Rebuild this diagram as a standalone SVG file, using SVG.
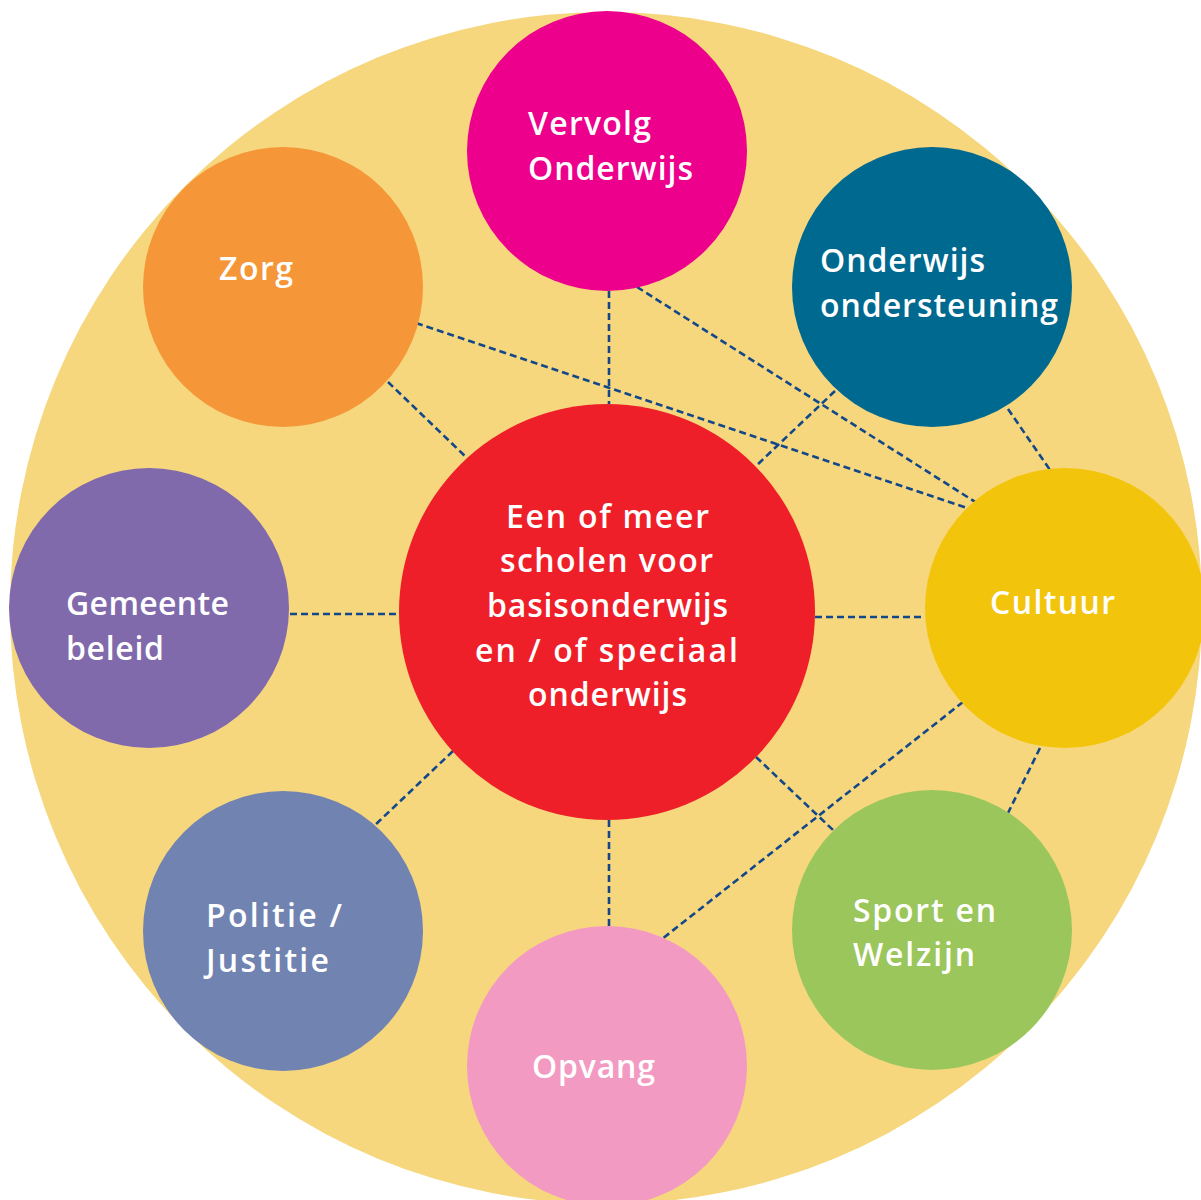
<svg xmlns="http://www.w3.org/2000/svg" width="1201" height="1200" viewBox="0 0 1201 1200">
<style>
.bg{fill:#F6D77E}
.lbl{font-family:"Open Sans","Noto Sans","Liberation Sans",sans-serif;font-size:32px;font-weight:600;fill:#FFFFFF}
#connectors line{stroke:#12488A;stroke-width:2.6;stroke-dasharray:7 4;fill:none}
</style>
<rect width="1201" height="1200" fill="#FFFFFF"/>
<circle class="bg" cx="606" cy="608" r="596"/>
<g id="connectors">
<line x1="609" y1="291" x2="609" y2="404"/>
<line x1="637" y1="287" x2="980" y2="505"/>
<line x1="416" y1="323" x2="967" y2="508"/>
<line x1="388" y1="382" x2="466" y2="457"/>
<line x1="835" y1="391" x2="757" y2="465"/>
<line x1="1008" y1="409" x2="1050" y2="470"/>
<line x1="290" y1="614" x2="399" y2="614"/>
<line x1="815" y1="617" x2="925" y2="617"/>
<line x1="756" y1="757" x2="833" y2="830"/>
<line x1="1040" y1="748" x2="1008" y2="813"/>
<line x1="963" y1="702" x2="662" y2="939"/>
<line x1="609" y1="820" x2="609" y2="926"/>
<line x1="453" y1="751" x2="374" y2="826"/>
</g>
<g id="vervolg">
<circle cx="607" cy="151" r="140" fill="#EC008C"/>
<text class="lbl" x="528" y="135" textLength="123" lengthAdjust="spacing">Vervolg</text>
<text class="lbl" x="528" y="180" textLength="165" lengthAdjust="spacing">Onderwijs</text>
</g>
<g id="zorg">
<circle cx="283" cy="287" r="140" fill="#F59738"/>
<text class="lbl" x="219" y="280" textLength="74" lengthAdjust="spacing">Zorg</text>
</g>
<g id="ondersteuning">
<circle cx="932" cy="287" r="140" fill="#00698F"/>
<text class="lbl" x="820" y="272" textLength="165" lengthAdjust="spacing">Onderwijs</text>
<text class="lbl" x="820" y="317" textLength="238" lengthAdjust="spacing">ondersteuning</text>
</g>
<g id="gemeente">
<circle cx="149" cy="608" r="140" fill="#806AAB"/>
<text class="lbl" x="66" y="615" textLength="163" lengthAdjust="spacing">Gemeente</text>
<text class="lbl" x="66" y="660" textLength="98" lengthAdjust="spacing">beleid</text>
</g>
<g id="cultuur">
<circle cx="1065" cy="608" r="140" fill="#F3C40C"/>
<text class="lbl" x="990" y="614" textLength="125" lengthAdjust="spacing">Cultuur</text>
</g>
<g id="politie">
<circle cx="283" cy="931" r="140" fill="#7183B1"/>
<text class="lbl" x="206" y="927" textLength="136" lengthAdjust="spacing">Politie /</text>
<text class="lbl" x="206" y="972" textLength="123" lengthAdjust="spacing">Justitie</text>
</g>
<g id="sport">
<circle cx="932" cy="930" r="140" fill="#9BC65C"/>
<text class="lbl" x="853" y="922" textLength="143" lengthAdjust="spacing">Sport en</text>
<text class="lbl" x="853" y="966" textLength="122" lengthAdjust="spacing">Welzijn</text>
</g>
<g id="opvang">
<circle cx="607" cy="1066" r="140" fill="#F39AC2"/>
<text class="lbl" x="532" y="1078" textLength="123" lengthAdjust="spacing">Opvang</text>
</g>
<g id="center">
<circle cx="607" cy="612" r="208" fill="#EE1F28"/>
<text class="lbl" x="506" y="528" textLength="203" lengthAdjust="spacing">Een of meer</text>
<text class="lbl" x="500" y="572" textLength="213" lengthAdjust="spacing">scholen voor</text>
<text class="lbl" x="487" y="617" textLength="241" lengthAdjust="spacing">basisonderwijs</text>
<text class="lbl" x="475" y="662" textLength="263" lengthAdjust="spacing">en / of speciaal</text>
<text class="lbl" x="528" y="706" textLength="159" lengthAdjust="spacing">onderwijs</text>
</g>
</svg>
